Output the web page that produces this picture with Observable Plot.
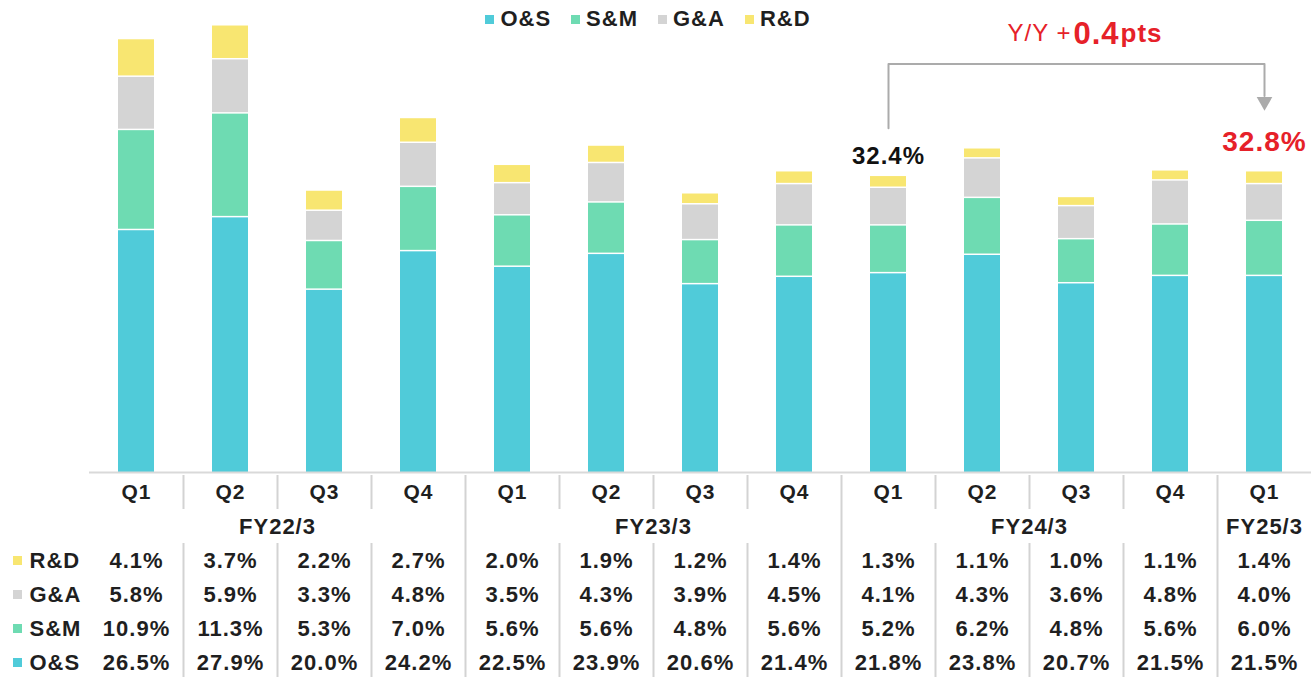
<!DOCTYPE html>
<html>
<head>
<meta charset="utf-8">
<script src="https://cdn.jsdelivr.net/npm/d3@7"></script>
<script src="https://cdn.jsdelivr.net/npm/@observablehq/plot@0.6"></script>
<style>
  html, body { margin: 0; padding: 0; background: #fff; overflow: hidden; }
  body { font-family: "Liberation Sans", Arial, sans-serif; }
  #wrap { position: relative; width: 1314px; height: 677px; overflow: hidden; }
  #legend { position: absolute; top: 6px; left: 0; width: 1314px; display: flex; justify-content: center; padding-right: 18px; box-sizing: border-box; font-weight: bold; font-size: 22px; color: #1f1f1f; letter-spacing: 1px; }
  #legend .item { display: flex; align-items: center; margin: 0 10px; }
  #legend .sw { width: 9px; height: 9px; margin-right: 6px; }
  svg { display: block; overflow: visible; }
  svg text { letter-spacing: 1px; }
</style>
</head>
<body>
<div id="wrap">
  <div id="chart"></div>
  <div id="table"></div>
  <div id="legend"></div>
</div>
<script>
// ---- data ----
const quarters = ["Q1","Q2","Q3","Q4","Q1","Q2","Q3","Q4","Q1","Q2","Q3","Q4","Q1"];
const fiscalYears = ["FY22/3","FY22/3","FY22/3","FY22/3","FY23/3","FY23/3","FY23/3","FY23/3","FY24/3","FY24/3","FY24/3","FY24/3","FY25/3"];
const seriesNames = ["O&S","S&M","G&A","R&D"];
const seriesColors = ["#50CBD9","#6EDBB2","#D4D4D4","#F8E671"];
const osValues = [26.5,27.9,20.0,24.2,22.5,23.9,20.6,21.4,21.8,23.8,20.7,21.5,21.5];
const smValues = [10.9,11.3,5.3,7.0,5.6,5.6,4.8,5.6,5.2,6.2,4.8,5.6,6.0];
const gaValues = [5.8,5.9,3.3,4.8,3.5,4.3,3.9,4.5,4.1,4.3,3.6,4.8,4.0];
const rdValues = [4.1,3.7,2.2,2.7,2.0,1.9,1.2,1.4,1.3,1.1,1.0,1.1,1.4];
const tableRows = ["R&D","G&A","S&M","O&S"];
const yoyFromLabel = "32.4%";
const yoyToLabel = "32.8%";
const yoyText = ["Y/Y +", "0.4", "pts"];

// ---- derived ----
const cols = quarters.map((q, i) => `${fiscalYears[i]} ${q}`);
const valuesBySeries = {"O&S": osValues, "S&M": smValues, "G&A": gaValues, "R&D": rdValues};
const data = seriesNames.flatMap(s => valuesBySeries[s].map((v, i) => ({col: cols[i], series: s, value: v})));
const totals = cols.map((c, i) => seriesNames.reduce((a, s) => a + valuesBySeries[s][i], 0));

const W = 1314, ML = 89, MR = 3;
const step = (W - ML - MR) / cols.length;
const xScale = {type: "band", domain: cols, padding: 0, axis: null};
const color = {domain: seriesNames, range: seriesColors};
const red = "#E62129";
const ink = "#1f1f1f";
const font = "'Liberation Sans', Arial, sans-serif";

const fromCol = cols[8], toCol = cols[12];
const bracketTop = 44.5, bracketLeftBottom = 37.5, bracketRightBottom = 41.0, arrowY = 40.4, yoyY = 47.8;
const bracket = [
  {col: fromCol, y: bracketLeftBottom},
  {col: fromCol, y: bracketTop},
  {col: toCol, y: bracketTop},
  {col: toCol, y: bracketRightBottom}
];

const chart = Plot.plot({
  width: W, height: 474,
  marginLeft: ML, marginRight: MR, marginTop: 13, marginBottom: 2,
  x: xScale,
  y: {domain: [0, 50], axis: null},
  color,
  style: {fontFamily: font},
  marks: [
    Plot.barY(data, Plot.stackY({x: "col", y: "value", fill: "series", order: seriesNames, insetLeft: 29, insetRight: 29, insetTop: 1.5})),
    Plot.ruleY([0], {stroke: "#d9d9d9", strokeWidth: 2}),
    Plot.line(bracket, {x: "col", y: "y", stroke: "#ababab", strokeWidth: 2}),
    Plot.dot([{col: toCol, y: arrowY}], {x: "col", y: "y", symbol: "triangle", rotate: 180, r: 5.8, fill: "#ababab"}),
    Plot.text([{col: fromCol, y: totals[8], t: yoyFromLabel}], {x: "col", y: "y", text: "t", dy: -11, lineAnchor: "bottom", fontSize: 24, fontWeight: "bold", fill: "#111"}),
    Plot.text([{col: toCol, y: totals[12], t: yoyToLabel}], {x: "col", y: "y", text: "t", dy: -19, lineAnchor: "bottom", fontSize: 28, fontWeight: "bold", fill: red}),
    Plot.text([{col: cols[10], y: yoyY, t: yoyText[0]}], {x: "col", y: "y", text: "t", dx: -5, textAnchor: "end", lineAnchor: "middle", fontSize: 24, fill: red}),
    Plot.text([{col: cols[10], y: yoyY, t: yoyText[1]}], {x: "col", y: "y", text: "t", dx: -3, textAnchor: "start", lineAnchor: "middle", fontSize: 31, fontWeight: "bold", fill: red}),
    Plot.text([{col: cols[10], y: yoyY, t: yoyText[2]}], {x: "col", y: "y", text: "t", dx: 44, textAnchor: "start", lineAnchor: "middle", fontSize: 26, fontWeight: "bold", fill: red})
  ]
});
document.getElementById("chart").append(chart);

// ---- table ----
const tableY = ["Q", "FY", ...tableRows];
const cellData = tableRows.flatMap(r => valuesBySeries[r].map((v, i) => ({col: cols[i], row: r, t: v.toFixed(1) + "%"})));
const sepCols = cols.slice(0, -1);
const fyGroups = d3.groups(cols.map((c, i) => ({c, fy: fiscalYears[i]})), d => d.fy);
const fyEndCols = fyGroups.slice(0, -1).map(([, g]) => g[g.length - 1].c);
const sepData = ["Q", ...tableRows].flatMap(r => sepCols.map(c => ({c, r}))).concat(fyEndCols.map(c => ({c, r: "FY"})));

const table = Plot.plot({
  width: W, height: 206,
  marginLeft: ML, marginRight: MR, marginTop: 0, marginBottom: 0,
  x: xScale,
  y: {type: "band", domain: tableY, padding: 0, axis: null},
  color,
  style: {fontFamily: font},
  marks: [
    Plot.tickX(sepData, {x: "c", y: "r", stroke: "#d3d3d3", strokeWidth: 2, dx: step / 2}),
    Plot.text(cols.map((c, i) => ({c, q: quarters[i]})), {x: "c", y: () => "Q", text: "q", fontSize: 21, fontWeight: "bold", fill: ink}),
    ...fyGroups.map(([fy, g]) => Plot.text([{c: g[0].c, fy}], {x: "c", y: () => "FY", text: "fy", dx: (g.length - 1) * step / 2, fontSize: 22, fontWeight: "bold", fill: ink})),
    Plot.text(cellData, {x: "col", y: "row", text: "t", fontSize: 22, fontWeight: "bold", fill: ink}),
    Plot.dot(tableRows, {y: d => d, frameAnchor: "left", dx: -72, symbol: "square", r: 5.1, fill: d => d}),
    Plot.text(tableRows, {y: d => d, text: d => d, frameAnchor: "left", dx: -60, textAnchor: "start", fontSize: 22, fontWeight: "bold", fill: ink})
  ]
});
document.getElementById("table").append(table);

// ---- legend ----
const legend = document.getElementById("legend");
seriesNames.forEach((s, i) => {
  const item = document.createElement("div");
  item.className = "item";
  const sw = document.createElement("span");
  sw.className = "sw";
  sw.style.background = seriesColors[i];
  const lab = document.createElement("span");
  lab.textContent = s;
  item.append(sw, lab);
  legend.append(item);
});
</script>
</body>
</html>
